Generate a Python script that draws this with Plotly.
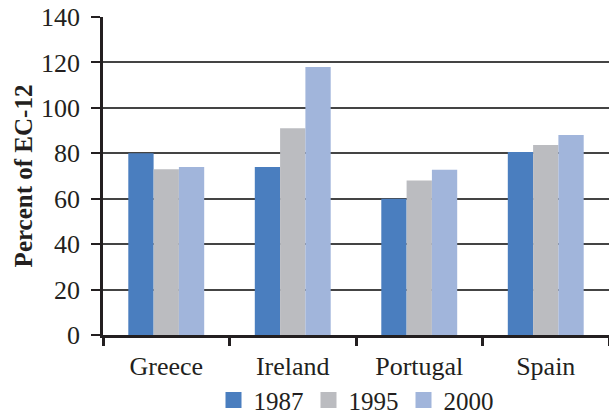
import plotly.graph_objects as go

countries = ["Greece", "Ireland", "Portugal", "Spain"]
years = ["1987", "1995", "2000"]
v1987 = [80, 74, 60, 80.6]
v1995 = [73, 91, 68, 83.7]
v2000 = [74, 118, 72.7, 88]
colors = ["#4a7ebf", "#bbbcc0", "#a1b5db"]

serif = "Liberation Serif"
ink = "#231f20"
fig = go.Figure()
for name, vals, c in zip(years, [v1987, v1995, v2000], colors):
    fig.add_trace(go.Bar(x=countries, y=vals, name=name, showlegend=False,
                         marker=dict(color=c, line=dict(width=0))))
# legend entries with larger square swatches
for name, c in zip(years, colors):
    fig.add_trace(go.Scatter(x=[None], y=[None], mode="markers", name=name,
                             marker=dict(symbol="square", size=17, color=c)))

fig.update_layout(
    width=609, height=416,
    margin=dict(l=103, r=0, t=17, b=81, autoexpand=False),
    paper_bgcolor="white", plot_bgcolor="white",
    barmode="group", bargap=0.4, bargroupgap=0,
    font=dict(family=serif, size=26, color=ink),
    showlegend=True,
    legend=dict(orientation="h", x=0.5, xanchor="center", y=-0.205, yanchor="middle",
                font=dict(size=25), itemwidth=30, tracegroupgap=0, itemsizing="trace",
                bgcolor="rgba(0,0,0,0)"),
    xaxis=dict(showline=True, linecolor=ink, linewidth=2.5,
               ticks="outside", tickson="boundaries", ticklen=8, tickwidth=2.5,
               tickcolor=ink, showgrid=False, ticklabelstandoff=6),
    yaxis=dict(range=[0, 140], dtick=20, showline=True, linecolor=ink, linewidth=2.5,
               ticks="outside", ticklen=9, tickwidth=2, tickcolor=ink,
               showgrid=True, gridcolor="#444444", gridwidth=1.5, zeroline=False,
               ticklabelstandoff=6,
               title=dict(text="<b>Percent of EC-12</b>", font=dict(size=25), standoff=2)),
)
fig.write_html("out.html")
